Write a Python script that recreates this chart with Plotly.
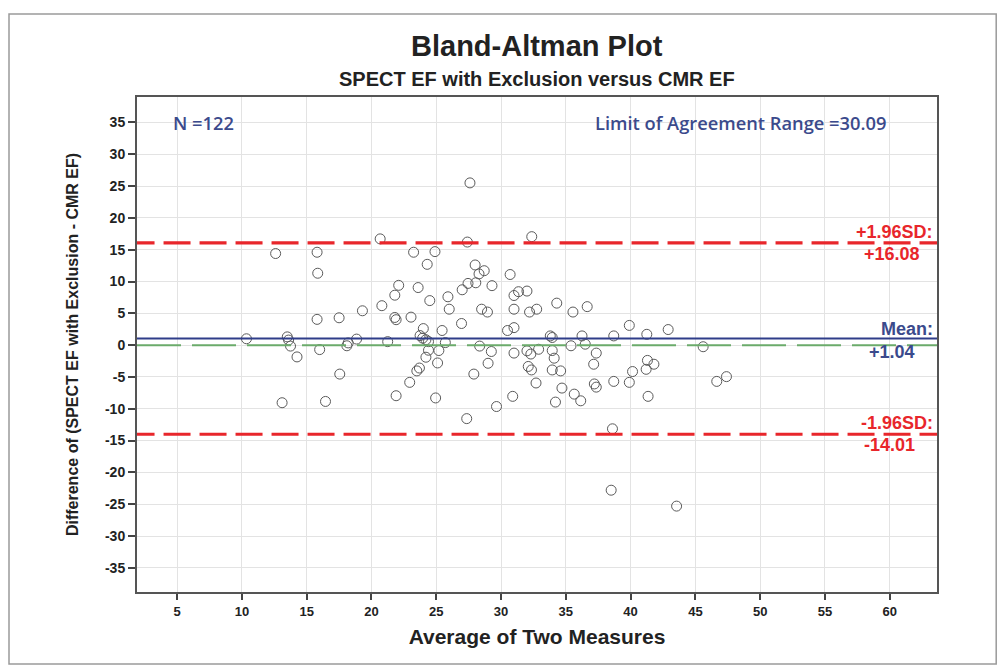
import plotly.graph_objects as go

# ---- data ----
avg_x = [20.67, 27.4, 12.6, 15.8, 15.85, 23.25, 24.9, 24.3, 28.0, 28.3,
         28.7, 28.05, 27.45, 29.3, 27.0, 22.1, 23.6, 21.8, 25.9, 24.5,
         20.8, 26.0, 19.3, 28.5, 28.95, 15.8, 17.5, 21.8, 21.9, 23.05,
         26.95, 24.0, 25.45, 10.35, 13.5, 13.6, 13.75, 14.25, 16.0, 18.2,
         18.1, 18.85, 21.25, 23.75, 23.95, 24.2, 24.4, 24.4, 25.2, 25.7,
         24.2, 25.1, 23.7, 23.5, 22.95, 21.9, 17.55, 13.1, 16.45, 24.95,
         27.9, 27.35, 28.35, 29.25, 29.0, 29.65, 27.6,
         32.37, 30.7, 31.0, 31.35, 32.0, 34.3, 36.65, 35.55, 32.75, 32.2,
         31.0, 30.5, 31.0, 39.9, 41.25, 42.9, 38.7, 33.8, 33.95, 36.25,
         36.5, 35.4, 37.35, 45.6, 31.0, 32.0, 32.3, 32.9, 33.95, 34.1,
         32.1, 32.35, 33.95, 34.6, 37.15, 37.2, 37.35, 32.7, 34.7, 35.65,
         36.15, 34.2, 30.9, 38.7, 39.9, 40.15, 41.2, 41.3, 41.8, 41.35,
         46.65, 47.4, 38.6, 38.5, 43.55]
diff_y = [16.7, 16.2, 14.4, 14.6, 11.3, 14.6, 14.7, 12.7, 12.6, 11.2,
          11.7, 9.8, 9.7, 9.35, 8.7, 9.4, 9.05, 7.85, 7.6, 7.0,
          6.2, 5.65, 5.4, 5.65, 5.2, 4.05, 4.3, 4.35, 4.0, 4.4,
          3.4, 2.6, 2.3, 1.0, 1.3, 0.8, -0.15, -1.85, -0.7, 0.35,
          -0.1, 0.95, 0.55, 1.5, 1.1, 0.85, 0.55, -0.8, -0.85, 0.4,
          -1.9, -2.8, -3.6, -4.05, -5.85, -7.95, -4.55, -9.05, -8.85, -8.3,
          -4.55, -11.55, -0.15, -1.0, -2.85, -9.65, 25.5,
          17.05, 11.1, 7.8, 8.4, 8.5, 6.6, 6.05, 5.2, 5.65, 5.2,
          5.65, 2.3, 2.75, 3.1, 1.7, 2.45, 1.45, 1.45, 1.2, 1.45,
          0.15, -0.1, -1.25, -0.25, -1.25, -0.9, -1.4, -0.65, -0.85, -2.05,
          -3.35, -3.9, -3.9, -4.05, -3.0, -6.1, -6.6, -5.95, -6.75, -7.7,
          -8.75, -8.95, -8.05, -5.7, -5.85, -4.15, -3.8, -2.4, -3.0, -8.05,
          -5.7, -4.95, -13.15, -22.8, -25.3]

n_obs = 122
mean_diff = 1.04
upper_loa = 16.08
lower_loa = -14.01
loa_range = 30.09

x_ticks = [5, 10, 15, 20, 25, 30, 35, 40, 45, 50, 55, 60]
y_ticks = [35, 30, 25, 20, 15, 10, 5, 0, -5, -10, -15, -20, -25, -30, -35]
x_range = [1.9, 63.65]
y_range = [-38.8, 39.0]

# ---- styling ----
RED = "#e8262b"
BLUE = "#2f3d89"
TXTBLUE = "#3b4a8c"
GREEN = "#6bab6b"
FONT = "Liberation Sans"

fig = go.Figure()

fig.add_trace(go.Scatter(
    x=avg_x, y=diff_y, mode="markers",
    marker=dict(symbol="circle-open", size=10, color="#5a5a5a",
                line=dict(width=1, color="#5a5a5a")),
    showlegend=False, hoverinfo="x+y"))

shapes = []
# zero reference (green dashed)
shapes.append(dict(type="line", xref="x", yref="y", x0=x_range[0], x1=x_range[1],
                   y0=0, y1=0, line=dict(color=GREEN, width=2, dash="44px,11px"),
                   layer="above"))
# mean line (blue solid)
shapes.append(dict(type="line", xref="x", yref="y", x0=x_range[0], x1=x_range[1],
                   y0=mean_diff, y1=mean_diff, line=dict(color=BLUE, width=2),
                   layer="above"))
# limits of agreement (red dashed)
for v in (upper_loa, lower_loa):
    shapes.append(dict(type="line", xref="x", yref="y", x0=x_range[0] - 0.73,
                       x1=x_range[1], y0=v, y1=v,
                       line=dict(color=RED, width=3.2, dash="27px,9px"),
                       layer="above"))
# outer frame of the whole picture
shapes.append(dict(type="rect", xref="paper", yref="paper", x0=-0.16, x1=1.074,
                   y0=-0.1455, y1=1.1677, line=dict(color="#9a9a9a", width=1.5),
                   layer="below"))

ann = []
def lab(text, y, color, yanchor, xshift, yshift):
    ann.append(dict(text=f"<b>{text}</b>", xref="paper", yref="y", x=1, y=y,
                    xanchor="right", yanchor=yanchor, showarrow=False,
                    xshift=xshift, yshift=yshift,
                    font=dict(family=FONT, size=18, color=color)))

lab("+1.96SD:", upper_loa, RED, "bottom", -2, -1)
lab(f"+{upper_loa:.2f}", upper_loa, RED, "top", -15, 1)
lab("Mean:", mean_diff, TXTBLUE, "bottom", -2, -2)
lab(f"+{mean_diff:.2f}", mean_diff, TXTBLUE, "top", -20, -1)
lab("-1.96SD:", lower_loa, RED, "bottom", -2, -1)
lab(f"{lower_loa:.2f}", lower_loa, RED, "top", -20, 1)

ann.append(dict(text=f"N ={n_obs}", xref="paper", yref="paper", x=0.043, y=0.948,
                xanchor="left", yanchor="middle", showarrow=False,
                font=dict(family="Open Sans", size=18.3, color=TXTBLUE, weight=600)))
ann.append(dict(text=f"Limit of Agreement Range ={loa_range:.2f}", xref="paper",
                yref="paper", x=0.939, y=0.948, xanchor="right", yanchor="middle",
                showarrow=False,
                font=dict(family="Open Sans", size=18.3, color=TXTBLUE, weight=600)))
# titles
ann.append(dict(text="<b>Bland-Altman Plot</b>", xref="paper", yref="paper",
                x=0.5, y=1.103, xanchor="center", yanchor="middle", showarrow=False,
                font=dict(family=FONT, size=29, color="#222222")))
ann.append(dict(text="<b>SPECT EF with Exclusion versus CMR EF</b>", xref="paper",
                yref="paper", x=0.5, y=1.036, xanchor="center", yanchor="middle",
                showarrow=False, font=dict(family=FONT, size=20, color="#222222")))

fig.update_layout(
    width=998, height=669,
    margin=dict(l=137, r=61, t=97, b=77),
    paper_bgcolor="white", plot_bgcolor="white",
    shapes=shapes, annotations=ann,
    font=dict(family=FONT, color="#222222"),
)
fig.update_xaxes(
    range=x_range, tickvals=x_ticks, ticktext=[str(t) for t in x_ticks],
    showgrid=True, gridcolor="#e3e3e3", gridwidth=1, zeroline=False,
    showline=True, linecolor="#555555", linewidth=2, mirror=True,
    ticks="outside", ticklen=6, tickcolor="#444444", tickwidth=1.5,
    tickfont=dict(family=FONT, size=13, color="#222222", weight="bold"),
    title=dict(text="<b>Average of Two Measures</b>", standoff=12,
               font=dict(family=FONT, size=21, color="#222222")),
)
fig.update_yaxes(
    range=y_range, tickvals=y_ticks, ticktext=[str(t) for t in y_ticks],
    showgrid=True, gridcolor="#e3e3e3", gridwidth=1, zeroline=False,
    showline=True, linecolor="#555555", linewidth=2, mirror=True,
    ticks="outside", ticklen=7, tickcolor="#444444", tickwidth=1.5,
    tickfont=dict(family=FONT, size=14, color="#222222", weight="bold"),
    title=dict(text="<b>Difference of (SPECT EF with Exclusion - CMR EF)</b>",
               standoff=22, font=dict(family=FONT, size=16, color="#222222")),
)

fig.write_html("out.html",
               config={"displayModeBar": False},
               post_script="document.body.style.margin='0';")
